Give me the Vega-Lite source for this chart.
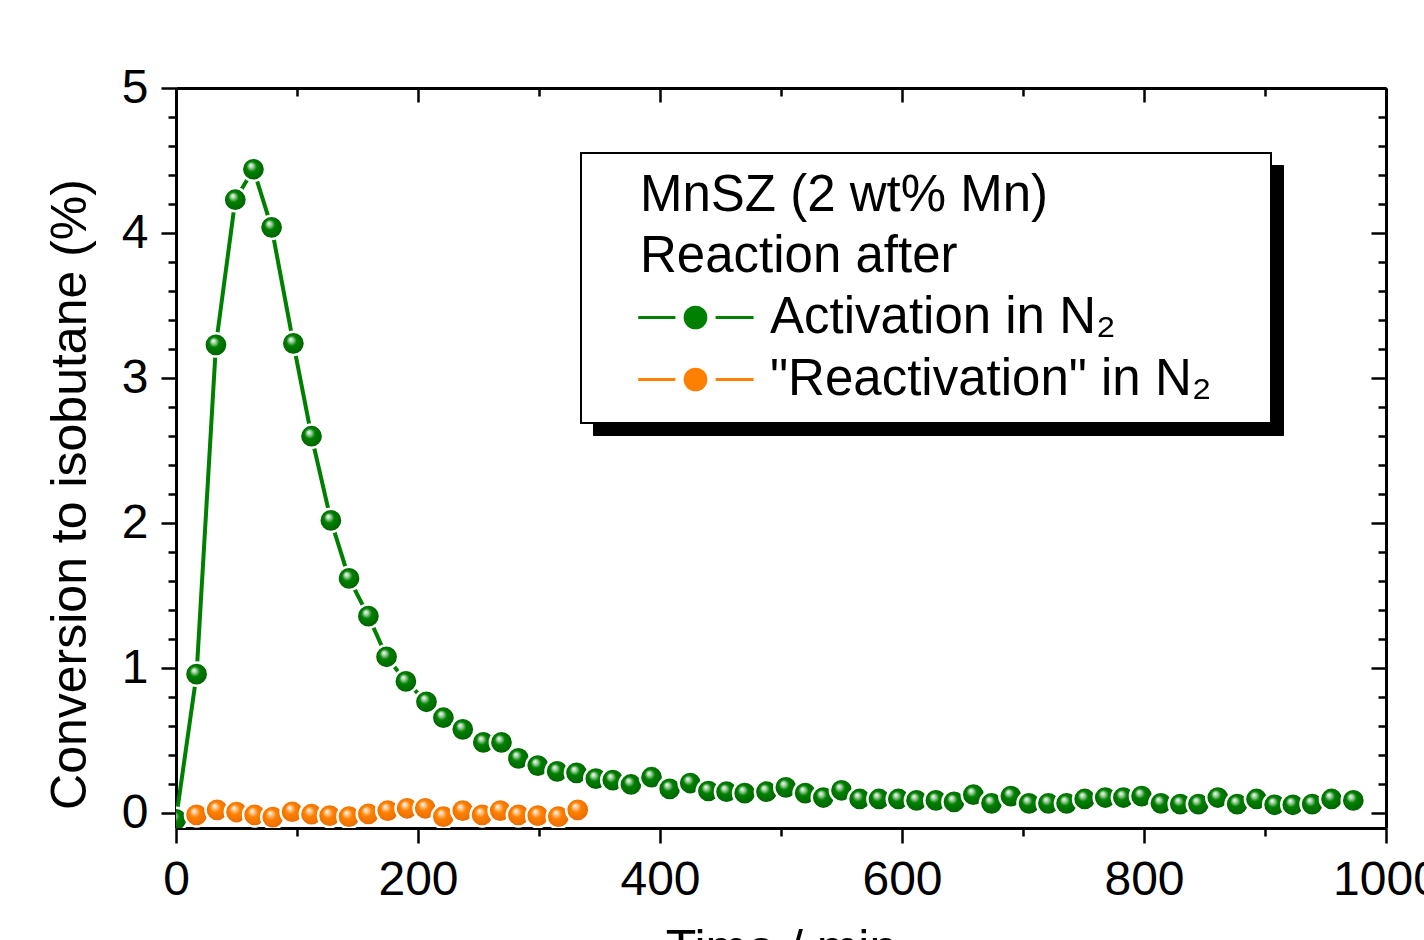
{
  "$schema": "https://vega.github.io/schema/vega-lite/v6.json",
  "width": 1210,
  "height": 740,
  "autosize": {"type": "none"},
  "padding": {"left": 176, "top": 88, "right": 38, "bottom": 112},
  "background": "white",
  "config": {"view": {"stroke": null}},
  "title": {"text": "(a)", "font": "Liberation Sans", "fontSize": 50, "fontWeight": "normal", "color": "black", "anchor": "middle", "frame": "group", "baseline": "alphabetic", "offset": 95},
  "data": {"values": [
    {"t": 0, "y": -0.04, "series": "Activation in N₂"},
    {"t": 17, "y": 0.96, "series": "Activation in N₂"},
    {"t": 33, "y": 3.23, "series": "Activation in N₂"},
    {"t": 49, "y": 4.23, "series": "Activation in N₂"},
    {"t": 64, "y": 4.44, "series": "Activation in N₂"},
    {"t": 79, "y": 4.04, "series": "Activation in N₂"},
    {"t": 97, "y": 3.24, "series": "Activation in N₂"},
    {"t": 112, "y": 2.6, "series": "Activation in N₂"},
    {"t": 128, "y": 2.02, "series": "Activation in N₂"},
    {"t": 143, "y": 1.62, "series": "Activation in N₂"},
    {"t": 159, "y": 1.36, "series": "Activation in N₂"},
    {"t": 174, "y": 1.08, "series": "Activation in N₂"},
    {"t": 190, "y": 0.91, "series": "Activation in N₂"},
    {"t": 207, "y": 0.77, "series": "Activation in N₂"},
    {"t": 221, "y": 0.66, "series": "Activation in N₂"},
    {"t": 237, "y": 0.58, "series": "Activation in N₂"},
    {"t": 254, "y": 0.49, "series": "Activation in N₂"},
    {"t": 269, "y": 0.49, "series": "Activation in N₂"},
    {"t": 283, "y": 0.38, "series": "Activation in N₂"},
    {"t": 299, "y": 0.33, "series": "Activation in N₂"},
    {"t": 315, "y": 0.29, "series": "Activation in N₂"},
    {"t": 331, "y": 0.28, "series": "Activation in N₂"},
    {"t": 347, "y": 0.24, "series": "Activation in N₂"},
    {"t": 361, "y": 0.23, "series": "Activation in N₂"},
    {"t": 376, "y": 0.2, "series": "Activation in N₂"},
    {"t": 393, "y": 0.25, "series": "Activation in N₂"},
    {"t": 408, "y": 0.17, "series": "Activation in N₂"},
    {"t": 425, "y": 0.21, "series": "Activation in N₂"},
    {"t": 440, "y": 0.155, "series": "Activation in N₂"},
    {"t": 455, "y": 0.15, "series": "Activation in N₂"},
    {"t": 470, "y": 0.14, "series": "Activation in N₂"},
    {"t": 488, "y": 0.15, "series": "Activation in N₂"},
    {"t": 504, "y": 0.18, "series": "Activation in N₂"},
    {"t": 520, "y": 0.14, "series": "Activation in N₂"},
    {"t": 535, "y": 0.11, "series": "Activation in N₂"},
    {"t": 550, "y": 0.16, "series": "Activation in N₂"},
    {"t": 565, "y": 0.1, "series": "Activation in N₂"},
    {"t": 581, "y": 0.1, "series": "Activation in N₂"},
    {"t": 597, "y": 0.1, "series": "Activation in N₂"},
    {"t": 612, "y": 0.09, "series": "Activation in N₂"},
    {"t": 628, "y": 0.09, "series": "Activation in N₂"},
    {"t": 643, "y": 0.08, "series": "Activation in N₂"},
    {"t": 659, "y": 0.13, "series": "Activation in N₂"},
    {"t": 674, "y": 0.07, "series": "Activation in N₂"},
    {"t": 690, "y": 0.12, "series": "Activation in N₂"},
    {"t": 705, "y": 0.07, "series": "Activation in N₂"},
    {"t": 721, "y": 0.07, "series": "Activation in N₂"},
    {"t": 736, "y": 0.07, "series": "Activation in N₂"},
    {"t": 751, "y": 0.1, "series": "Activation in N₂"},
    {"t": 768, "y": 0.11, "series": "Activation in N₂"},
    {"t": 783, "y": 0.11, "series": "Activation in N₂"},
    {"t": 798, "y": 0.12, "series": "Activation in N₂"},
    {"t": 814, "y": 0.07, "series": "Activation in N₂"},
    {"t": 830, "y": 0.065, "series": "Activation in N₂"},
    {"t": 845, "y": 0.065, "series": "Activation in N₂"},
    {"t": 861, "y": 0.11, "series": "Activation in N₂"},
    {"t": 877, "y": 0.065, "series": "Activation in N₂"},
    {"t": 893, "y": 0.1, "series": "Activation in N₂"},
    {"t": 908, "y": 0.06, "series": "Activation in N₂"},
    {"t": 923, "y": 0.06, "series": "Activation in N₂"},
    {"t": 939, "y": 0.065, "series": "Activation in N₂"},
    {"t": 955, "y": 0.1, "series": "Activation in N₂"},
    {"t": 973, "y": 0.09, "series": "Activation in N₂"},
    {"t": 17, "y": -0.01, "series": "\"Reactivation\" in N₂"},
    {"t": 34, "y": 0.025, "series": "\"Reactivation\" in N₂"},
    {"t": 50, "y": 0.01, "series": "\"Reactivation\" in N₂"},
    {"t": 65, "y": -0.01, "series": "\"Reactivation\" in N₂"},
    {"t": 80, "y": -0.025, "series": "\"Reactivation\" in N₂"},
    {"t": 96, "y": 0.012, "series": "\"Reactivation\" in N₂"},
    {"t": 112, "y": -0.005, "series": "\"Reactivation\" in N₂"},
    {"t": 127, "y": -0.015, "series": "\"Reactivation\" in N₂"},
    {"t": 143, "y": -0.022, "series": "\"Reactivation\" in N₂"},
    {"t": 159, "y": -0.003, "series": "\"Reactivation\" in N₂"},
    {"t": 175, "y": 0.02, "series": "\"Reactivation\" in N₂"},
    {"t": 191, "y": 0.036, "series": "\"Reactivation\" in N₂"},
    {"t": 206, "y": 0.036, "series": "\"Reactivation\" in N₂"},
    {"t": 221, "y": -0.022, "series": "\"Reactivation\" in N₂"},
    {"t": 237, "y": 0.02, "series": "\"Reactivation\" in N₂"},
    {"t": 253, "y": -0.01, "series": "\"Reactivation\" in N₂"},
    {"t": 268, "y": 0.02, "series": "\"Reactivation\" in N₂"},
    {"t": 283, "y": -0.01, "series": "\"Reactivation\" in N₂"},
    {"t": 299, "y": -0.015, "series": "\"Reactivation\" in N₂"},
    {"t": 316, "y": -0.022, "series": "\"Reactivation\" in N₂"},
    {"t": 332, "y": 0.025, "series": "\"Reactivation\" in N₂"}
  ]},
  "encoding": {
    "x": {"field": "t", "type": "quantitative", "scale": {"domain": [0, 1000], "nice": false, "zero": false}, "axis": null},
    "y": {"field": "y", "type": "quantitative", "scale": {"domain": [-0.1, 5], "nice": false, "zero": false}, "axis": null}
  },
  "layer": [
    {
      "mark": {"type": "point", "opacity": 0, "clip": true},
      "encoding": {
        "shape": {
          "field": "series", "type": "nominal",
          "scale": {"domain": ["\"Reactivation\" in N₂", "Activation in N₂"], "range": ["M-4.98,0L-1.75,0M1.75,0L5.05,0M0.9,0A0.9,0.9,0,1,1,-0.9,0A0.9,0.9,0,1,1,0.9,0ZM47.95,0", "M-4.98,0L-1.75,0M1.75,0L5.05,0M0.9,0A0.9,0.9,0,1,1,-0.9,0A0.9,0.9,0,1,1,0.9,0ZM47.95,0"]},
          "legend": {
            "orient": "none", "legendX": 417, "legendY": 77, "zindex": 1,
            "title": ["MnSZ (2 wt% Mn)", "Reaction after"],
            "titleFont": "Liberation Sans", "titleFontSize": 51, "titleFontWeight": "normal", "titleColor": "black", "titleLineHeight": 61, "titlePadding": 9, "titleLimit": 2000,
            "labelFont": "Liberation Sans", "labelFontSize": 51, "labelColor": "black", "labelOffset": 49, "labelLimit": 2000,
            "symbolSize": 529, "symbolStrokeWidth": 3, "symbolOffset": 71, "symbolFillColor": "black", "symbolStrokeColor": "black",
            "rowPadding": 10, "padding": 18, "fillColor": "black", "strokeColor": "black",
            "encode": {
              "title": {"update": {"dx": {"value": 41}}},
              "legend": {"update": {"strokeWidth": {"value": 2}}}
            }
          }
        }
      }
    },
    {
      "mark": {"type": "line", "strokeWidth": 4, "clip": true},
      "encoding": {
        "x": {
          "field": "t", "type": "quantitative", "scale": {"domain": [0, 1000], "nice": false, "zero": false},
          "axis": {
            "orient": "bottom", "values": [0, 100, 200, 300, 400, 500, 600, 700, 800, 900, 1000], "tickCount": 100, "tickMinStep": 0.01,
            "labelExpr": "datum.value % 200 === 0 ? format(datum.value, 'd') : ''", "labelFlush": false, "labelOverlap": false,
            "labelFont": "Liberation Sans", "labelFontSize": 48, "labelColor": "black", "labelPadding": 13,
            "tickSize": {"condition": {"test": "datum.value % 200 === 0", "value": 15}, "value": 8},
            "tickWidth": 2.5, "tickColor": "black", "domainColor": "black", "domainWidth": 3, "grid": false,
            "title": "Time / min", "titleFont": "Liberation Sans", "titleFontSize": 50, "titleFontWeight": "normal", "titleColor": "black", "titlePadding": 20
          }
        },
        "y": {
          "field": "y", "type": "quantitative", "scale": {"domain": [-0.1, 5], "nice": false, "zero": false},
          "axis": {
            "orient": "left", "values": [0, 0.2, 0.4, 0.6, 0.8, 1, 1.2, 1.4, 1.6, 1.8, 2, 2.2, 2.4, 2.6, 2.8, 3, 3.2, 3.4, 3.6, 3.8, 4, 4.2, 4.4, 4.6, 4.8, 5], "tickCount": 100, "tickMinStep": 0.01,
            "labelExpr": "datum.value % 1 === 0 ? format(datum.value, 'd') : ''", "labelFlush": false, "labelOverlap": false,
            "labelFont": "Liberation Sans", "labelFontSize": 48, "labelColor": "black", "labelPadding": 13,
            "tickSize": {"condition": {"test": "datum.value % 1 === 0", "value": 15}, "value": 8},
            "tickWidth": 2.5, "tickColor": "black", "domainColor": "black", "domainWidth": 3, "grid": false,
            "title": "Conversion to isobutane (%)", "titleFont": "Liberation Sans", "titleFontSize": 50, "titleFontWeight": "normal", "titleColor": "black", "titlePadding": 26, "titleY": 406
          }
        },
        "color": {
          "field": "series", "type": "nominal",
          "scale": {"domain": ["Activation in N₂", "\"Reactivation\" in N₂"], "range": ["#008000", "#ff8000"]},
          "legend": {
            "orient": "none", "legendX": 405, "legendY": 65, "zindex": 2,
            "title": ["MnSZ (2 wt% Mn)", "Reaction after"],
            "titleFont": "Liberation Sans", "titleFontSize": 51, "titleFontWeight": "normal", "titleColor": "black", "titleLineHeight": 61, "titlePadding": 9, "titleLimit": 2000,
            "labelFont": "Liberation Sans", "labelFontSize": 51, "labelColor": "black", "labelOffset": 49, "labelLimit": 2000,
            "symbolType": "M-4.98,0L-1.75,0M1.75,0L5.05,0M0.9,0A0.9,0.9,0,1,1,-0.9,0A0.9,0.9,0,1,1,0.9,0ZM47.95,0",
            "symbolSize": 529, "symbolStrokeWidth": 3, "symbolOffset": 71,
            "rowPadding": 10, "padding": 18, "fillColor": "white", "strokeColor": "black",
            "encode": {
              "title": {"update": {"dx": {"value": 41}}},
              "symbols": {"update": {"fill": {"scale": "color", "field": "value"}, "stroke": {"scale": "color", "field": "value"}, "strokeWidth": {"value": 3}, "opacity": {"value": 1}}},
              "legend": {"update": {"strokeWidth": {"value": 2}}}
            }
          }
        }
      }
    },
    {
      "mark": {"type": "point", "filled": true, "opacity": 1, "size": 540, "stroke": "white", "strokeWidth": 2.5, "clip": true},
      "encoding": {
        "x": {
          "field": "t", "type": "quantitative", "scale": {"domain": [0, 1000], "nice": false, "zero": false},
          "axis": {
            "orient": "top", "values": [0, 100, 200, 300, 400, 500, 600, 700, 800, 900, 1000], "tickCount": 100, "tickMinStep": 0.01, "labels": false,
            "tickSize": {"condition": {"test": "datum.value % 200 === 0", "value": -14}, "value": -8},
            "tickWidth": 2.5, "tickColor": "black", "domainColor": "black", "domainWidth": 3, "grid": false, "title": null
          }
        },
        "y": {
          "field": "y", "type": "quantitative", "scale": {"domain": [-0.1, 5], "nice": false, "zero": false},
          "axis": {
            "orient": "right", "values": [0, 0.2, 0.4, 0.6, 0.8, 1, 1.2, 1.4, 1.6, 1.8, 2, 2.2, 2.4, 2.6, 2.8, 3, 3.2, 3.4, 3.6, 3.8, 4, 4.2, 4.4, 4.6, 4.8, 5], "tickCount": 100, "tickMinStep": 0.01, "labels": false,
            "tickSize": {"condition": {"test": "datum.value % 1 === 0", "value": -15}, "value": -8},
            "tickWidth": 2.5, "tickColor": "black", "domainColor": "black", "domainWidth": 3, "grid": false, "title": null
          }
        },
        "fill": {
          "condition": {
            "test": "datum.series === 'Activation in N₂'",
            "value": {"gradient": "radial", "x1": 0.38, "y1": 0.32, "r1": 0, "x2": 0.5, "y2": 0.5, "r2": 0.55, "stops": [{"offset": 0, "color": "#ffffff"}, {"offset": 0.18, "color": "#9fd09f"}, {"offset": 0.4, "color": "#008000"}, {"offset": 1, "color": "#005c00"}]}
          },
          "value": {"gradient": "radial", "x1": 0.38, "y1": 0.32, "r1": 0, "x2": 0.5, "y2": 0.5, "r2": 0.55, "stops": [{"offset": 0, "color": "#ffffff"}, {"offset": 0.18, "color": "#ffc58a"}, {"offset": 0.4, "color": "#ff8000"}, {"offset": 1, "color": "#e06800"}]}
        }
      }
    }
  ],
  "resolve": {"axis": {"x": "independent", "y": "independent"}}
}
